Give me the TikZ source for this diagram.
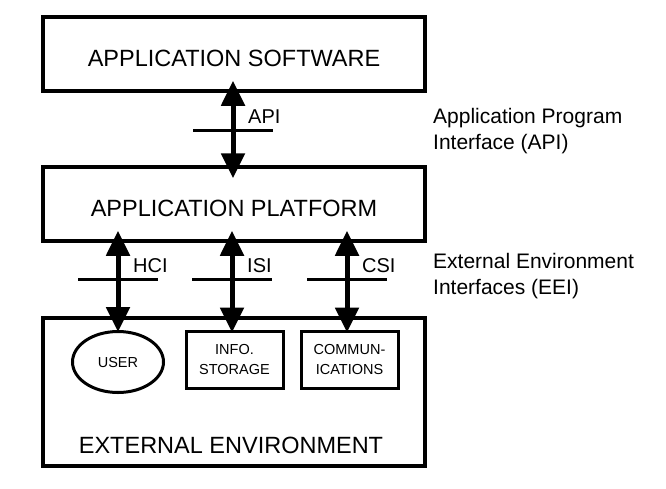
\documentclass[tikz,border=0pt]{standalone}
\usepackage{fontspec}
\setmainfont{Liberation Sans}
\usetikzlibrary{arrows.meta,shapes.geometric}

\tikzset{
    layer/.style={draw, line width=3.5pt, minimum width=382pt, inner sep=0pt,
        text height=25pt, text depth=0pt, font=\fontsize{23.5}{28}\selectfont},
    entity/.style={draw, line width=3pt, inner sep=0pt, align=center,
        font=\fontsize{14.5}{20}\selectfont},
    iface/.style={{Triangle[length=25pt,width=23pt]}-{Triangle[length=25pt,width=23pt]},
        line width=5pt, shorten <=-12pt},
    tick/.style={line width=3pt},
    ifacelabel/.style={anchor=west, inner sep=0pt, font=\fontsize{20}{24}\selectfont},
    note/.style={anchor=west, inner sep=0pt, align=left, font=\fontsize{21}{26}\selectfont}
}

\begin{document}
\begin{tikzpicture}[x=1pt, y=-1pt]
    \useasboundingbox (0,0) rectangle (666,488);
    % Layers
    \node[layer, minimum height=74pt] (software) at (234,54) {APPLICATION SOFTWARE};
    \node[layer, minimum height=74pt] (platform) at (234,204) {APPLICATION PLATFORM};
    \node[layer, minimum height=148pt] (environment) at (234,392) {};
    \node[inner sep=0pt, font=\fontsize{23.5}{28}\selectfont] (envtext) at (231,445) {EXTERNAL ENVIRONMENT};
    % Entities of the environment
    \node[entity, ellipse, minimum width=91pt, minimum height=61pt] (user) at (118,362) {USER};
    \node[entity, minimum width=97pt, minimum height=57pt] (storage) at (234.5,359.5) {INFO.\\STORAGE};
    \node[entity, minimum width=97pt, minimum height=57pt] (comms) at (349.5,359.5) {COMMUN-\\ICATIONS};
    % Interface points
    \coordinate (api) at (233,130);
    \coordinate (hci) at (118,279);
    \coordinate (isi) at (232,279);
    \coordinate (csi) at (347,279);
    % Interfaces
    \draw[iface, shorten >=-13pt] (software.south -| api) -- (platform.north -| api);
    \draw[iface, shorten >=-2pt] (platform.south -| hci) -- (user.north);
    \draw[iface, shorten >=-3pt] (platform.south -| isi) -- (storage.north -| isi);
    \draw[iface, shorten >=-3pt] (platform.south -| csi) -- (comms.north -| csi);
    \foreach \pt/\txt in {api/API, hci/HCI, isi/ISI, csi/CSI} {
        \draw[tick] ([xshift=-40pt]\pt) -- ([xshift=40pt]\pt);
        \node[ifacelabel] (\pt label) at ([shift={(15,-13)}]\pt) {\txt};
    }
    % Notes
    \node[note] (apinote) at (433,131) {Application Program\\Interface (API)};
    \node[note] (eeinote) at (433,276) {External Environment\\Interfaces (EEI)};
\end{tikzpicture}
\end{document}
